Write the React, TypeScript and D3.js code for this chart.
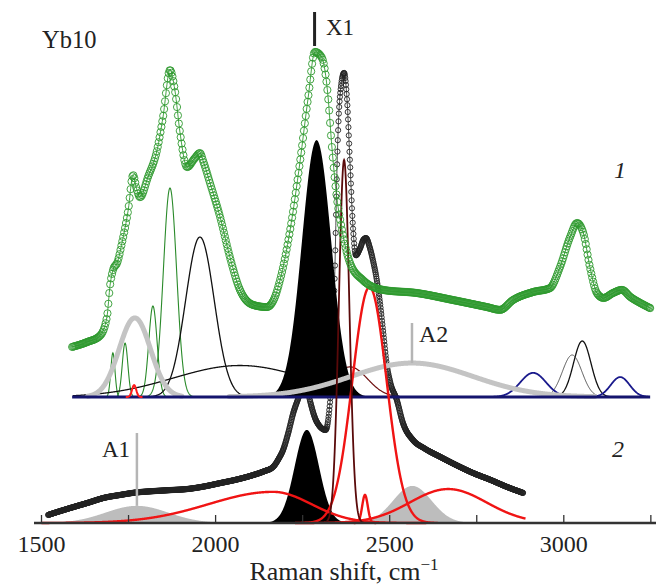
import React, { useEffect, useRef, useState } from "react";
import * as d3 from "d3";

const W = 657;
const H = 588;

// ---------- data (wavenumber cm^-1, intensity in arbitrary units) ----------
// Spectrum 1 (green circles, upper trace)
const SPEC1: [number, number][] = [
  [1588, 14.3], [1631, 15.7], [1668, 17.5], [1688, 22.9], [1697, 32], [1706, 36.5], [1718, 38.5],
  [1731, 44], [1749, 53.4], [1763, 63.4], [1773, 59.5], [1783, 57.1], [1806, 62.9], [1832, 70.6],
  [1849, 80], [1869, 93.4], [1883, 87.7], [1898, 75.4], [1918, 65.7], [1940, 68.2], [1955, 69.7],
  [1965, 67.2], [1984, 61.1], [2013, 51.4], [2041, 40], [2070, 30.6], [2108, 26.3], [2147, 25.7],
  [2168, 28], [2185, 33.4], [2214, 47.7], [2242, 66.9], [2266, 85.7], [2285, 98.6], [2305, 97],
  [2323, 85.7], [2334, 71.4], [2348, 57.1], [2363, 47.7], [2386, 38.3], [2423, 33.4], [2481, 30.6],
  [2578, 29.7], [2682, 27.7], [2779, 25.7], [2817, 24.9], [2854, 27.7], [2912, 30], [2960, 31.1],
  [2989, 37.1], [3018, 45.7], [3038, 49.7], [3056, 46.9], [3075, 37.1], [3095, 29.7], [3114, 28.3],
  [3141, 29.7], [3167, 30.6], [3191, 28.6], [3219, 26.9], [3248, 25.4],
];

// Spectrum 2 (black circles, lower trace)
const SPEC2: [number, number][] = [
  [1519, 2.3], [1560, 3.6], [1600, 4.8], [1631, 5.7], [1680, 7.2], [1725, 8], [1770, 8.7],
  [1820, 9.1], [1870, 9.4], [1918, 9.7], [1965, 10.4], [2013, 11.4], [2060, 12.4], [2108, 13.7],
  [2140, 14.8], [2165, 16], [2182, 18.5], [2194, 20.9], [2208, 25.5], [2223, 31.4], [2242, 37],
  [2256, 42], [2271, 35], [2290, 29], [2316, 26.6], [2329, 35], [2334, 42], [2338, 57],
  [2343, 74.3], [2349, 102.9], [2357, 121.7], [2369, 128.6], [2377, 121.7], [2386, 102.9],
  [2395, 83.7], [2403, 76.5], [2415, 78.5], [2425, 81], [2432, 81.4], [2442, 79], [2452, 75],
  [2462, 70], [2472, 63], [2482, 54], [2491, 45.7], [2502, 40], [2520, 35.3], [2538, 28.6],
  [2567, 23.7], [2600, 21.3], [2645, 18.9], [2690, 16.6], [2739, 14.3], [2790, 12.3],
  [2837, 10.3], [2883, 8.6],
];

// Fitted components: [centre, height, sigma(left), sigma(right)?]
type Peak = [number, number, number, number?];
const UPPER_GREEN_PEAKS: Peak[] = [[1705, 12.6, 6], [1740, 15.4, 8], [1820, 26, 12], [1869, 59.7, 19]];
const UPPER_BLACK_PEAKS: Peak[] = [[1955, 45.7, 41], [2070, 9, 190], [3053, 16, 25]];
const UPPER_DARKGREY_PEAKS: Peak[] = [[3024, 12, 28]];
const UPPER_BLUE_PEAKS: Peak[] = [[2912, 6.9, 37], [3162, 5.7, 27]];
const UPPER_GREY_PEAKS: Peak[] = [[1768, 22.6, 45], [2564, 9.7, 175]];
const UPPER_X1: Peak = [2290, 73.4, 42];
const UPPER_RED_PEAKS: Peak[] = [[1766, 3.4, 6]];
const UPPER_MAROON_PEAKS: Peak[] = [[2386, 8.6, 50]];

const LOWER_GREY_FILLS: Peak[] = [[1774, 4.9, 90], [2565, 10.6, 55]];
const LOWER_X1: Peak = [2262, 26.6, 35];
const LOWER_RED_PEAKS: Peak[] = [[2165, 8.9, 185, 110], [2442, 67.4, 49], [2429, 8, 8], [2668, 9.7, 110]];
const LOWER_MAROON_PEAKS: Peak[] = [[2369, 103.7, 15]];

const TICKS = [1500, 1750, 2000, 2250, 2500, 2750, 3000, 3250];
const TICK_LABELS = [1500, 2000, 2500, 3000];

const A1_PEAK = 1774;
const A2_PEAK = 2564;
const X1_PEAK = 2290;

// ---------- helpers ----------
function profile(p: Peak, lo: number, hi: number, k = 4): [number, number][] {
  const [c, h, sl, srIn] = p;
  const sr = srIn ?? sl;
  const a = Math.max(lo, c - k * sl);
  const b = Math.min(hi, c + k * sr);
  const pts: [number, number][] = [];
  for (let v = a; v <= b; v += 1) {
    const s = v < c ? sl : sr;
    pts.push([v, h * Math.exp(-((v - c) ** 2) / (2 * s * s))]);
  }
  return pts;
}

function sampleMarkers(path: SVGPathElement | null, step: number): [number, number][] {
  if (!path) return [];
  const L = path.getTotalLength();
  const out: [number, number][] = [];
  let last = -1e9;
  for (let s = 0; s <= L; s += 0.2) {
    const p = path.getPointAtLength(s);
    if (p.x - last >= step) {
      out.push([p.x, p.y]);
      last = p.x;
    }
  }
  const e = path.getPointAtLength(L);
  out.push([e.x, e.y]);
  return out;
}

const SERIF = "'Liberation Serif', 'Times New Roman', serif";

export default function App() {
  const x = d3.scaleLinear().domain([1500, 3250]).range([41.5, 650.85]);
  const yU = d3.scaleLinear().domain([0, 100]).range([397, 47]);
  const yL = d3.scaleLinear().domain([0, 100]).range([523, 173]);

  const lineU = d3.line<[number, number]>().x((d) => x(d[0])).y((d) => yU(d[1]));
  const lineL = d3.line<[number, number]>().x((d) => x(d[0])).y((d) => yL(d[1]));
  const areaU = d3.area<[number, number]>().x((d) => x(d[0])).y0(yU(0)).y1((d) => yU(d[1]));
  const areaL = d3.area<[number, number]>().x((d) => x(d[0])).y0(yL(0)).y1((d) => yL(d[1]));
  const spec1Line = d3.line<[number, number]>().x((d) => x(d[0])).y((d) => yU(d[1])).curve(d3.curveMonotoneX);
  const spec2Line = d3.line<[number, number]>().x((d) => x(d[0])).y((d) => yL(d[1])).curve(d3.curveMonotoneX);

  const p1 = useRef<SVGPathElement>(null);
  const p2 = useRef<SVGPathElement>(null);
  const [m1, setM1] = useState<[number, number][]>([]);
  const [m2, setM2] = useState<[number, number][]>([]);
  useEffect(() => {
    setM1(sampleMarkers(p1.current, 0.9));
    setM2(sampleMarkers(p2.current, 0.35));
  }, []);

  const ULO = 1590, UHI = 3245, LLO = 1500, LHI = 3250;

  const greyFill = "#bdbdbd";
  const green = "#2f9a2f";

  return (
    <svg width={W} height={H} style={{ position: "absolute", left: 0, top: 0, background: "#fff" }} fontFamily={SERIF}>
      {/* lower grey filled components */}
      {LOWER_GREY_FILLS.map((p, i) => (
        <path key={"lg" + i} d={areaL(profile(p, LLO, LHI)) || ""} fill={greyFill} />
      ))}

      {/* upper thin components */}
      {UPPER_GREEN_PEAKS.map((p, i) => (
        <path key={"ug" + i} d={lineU(profile(p, ULO, UHI)) || ""} fill="none" stroke="#2a8a2a" strokeWidth={1.1} />
      ))}
      {UPPER_BLACK_PEAKS.map((p, i) => (
        <path key={"ub" + i} d={lineU(profile(p, ULO, p[0] < 2330 ? 2330 : UHI)) || ""} fill="none" stroke="#111" strokeWidth={1.3} />
      ))}
      {UPPER_DARKGREY_PEAKS.map((p, i) => (
        <path key={"udg" + i} d={lineU(profile(p, ULO, UHI)) || ""} fill="none" stroke="#444" strokeWidth={0.9} />
      ))}
      {UPPER_BLUE_PEAKS.map((p, i) => (
        <path key={"ubl" + i} d={lineU(profile(p, ULO, UHI)) || ""} fill="none" stroke="#1a1a8c" strokeWidth={1.8} />
      ))}
      {UPPER_MAROON_PEAKS.map((p, i) => (
        <path key={"um" + i} d={lineU(profile(p, ULO, UHI)) || ""} fill="none" stroke="#6e1010" strokeWidth={1.2} />
      ))}

      {/* spectrum 2 (black circles) */}
      <path ref={p2} d={spec2Line(SPEC2) || ""} fill="none" stroke="#222" strokeWidth={0.8} />
      {m2.map((p, i) => (
        <circle key={"c2" + i} cx={p[0]} cy={p[1]} r={2.6} fill="none" stroke="#222" strokeWidth={0.9} />
      ))}

      {/* black filled X1 components */}
      <path d={areaU(profile(UPPER_X1, ULO, UHI)) || ""} fill="#000" />
      <path d={areaL(profile(LOWER_X1, LLO, LHI)) || ""} fill="#000" />

      {/* thick grey upper components */}
      {UPPER_GREY_PEAKS.map((p, i) => (
        <path key={"ugr" + i} d={lineU(profile(p, ULO, UHI, 3)) || ""} fill="none" stroke="#c4c4c4" strokeWidth={5} strokeLinecap="round" />
      ))}

      {/* upper baseline */}
      <line x1={x(1588)} x2={x(3248)} y1={yU(0)} y2={yU(0)} stroke="#15156e" strokeWidth={3} />

      {/* red / maroon lines */}
      {UPPER_RED_PEAKS.map((p, i) => (
        <path key={"ur" + i} d={lineU(profile(p, ULO, UHI)) || ""} fill="none" stroke="#ff1a1a" strokeWidth={2} />
      ))}
      {LOWER_RED_PEAKS.map((p, i) => (
        <path key={"lr" + i} d={lineL(profile(p, LLO, 2890)) || ""} fill="none" stroke="#f01414" strokeWidth={2.4} />
      ))}
      {LOWER_MAROON_PEAKS.map((p, i) => (
        <path key={"lm" + i} d={lineL(profile(p, LLO, LHI)) || ""} fill="none" stroke="#5a0a0a" strokeWidth={1.8} />
      ))}

      {/* spectrum 1 (green circles) */}
      <path ref={p1} d={spec1Line(SPEC1) || ""} fill="none" stroke={green} strokeWidth={0.9} />
      {m1.map((p, i) => (
        <circle key={"c1" + i} cx={p[0]} cy={p[1]} r={3.6} fill="none" stroke={green} strokeWidth={0.9} />
      ))}

      {/* axis */}
      <line x1={34} x2={656} y1={523} y2={523} stroke="#333" strokeWidth={2.5} />
      {TICKS.map((t) => (
        <line key={"t" + t} x1={x(t)} x2={x(t)} y1={523} y2={515} stroke="#333" strokeWidth={1.3} />
      ))}
      {TICK_LABELS.map((t) => (
        <text key={"tl" + t} x={x(t)} y={552} fontSize={24} textAnchor="middle" fill="#222">{t}</text>
      ))}
      <text x={344} y={580} fontSize={26} textAnchor="middle" fill="#222">
        Raman shift, cm<tspan dy={-10} fontSize={17}>−1</tspan>
      </text>

      {/* annotations */}
      <text x={42} y={48} fontSize={24.5} fill="#222">Yb10</text>
      <line x1={x(X1_PEAK) - 2} x2={x(X1_PEAK) - 2} y1={12} y2={46} stroke="#222" strokeWidth={3} />
      <text x={326} y={35} fontSize={23} fill="#222">X1</text>

      <line x1={x(A2_PEAK)} x2={x(A2_PEAK)} y1={yU(UPPER_GREY_PEAKS[1][1])} y2={323} stroke="#b5b5b5" strokeWidth={2.5} />
      <text x={419} y={342} fontSize={24} fill="#222">A2</text>

      <line x1={x(A1_PEAK)} x2={x(A1_PEAK)} y1={yL(LOWER_GREY_FILLS[0][1])} y2={433} stroke="#b5b5b5" strokeWidth={2.5} />
      <text x={130} y={457} fontSize={23} textAnchor="end" fill="#222">A1</text>

      <text x={614} y={178} fontSize={24} fontStyle="italic" fill="#222">1</text>
      <text x={612} y={457} fontSize={24} fontStyle="italic" fill="#222">2</text>
    </svg>
  );
}
